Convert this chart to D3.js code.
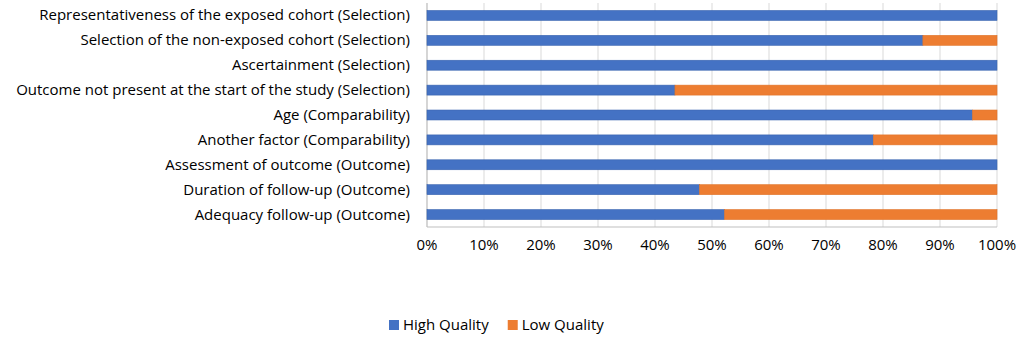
<!DOCTYPE html>
<html>
<head>
<meta charset="utf-8">
<script src="https://cdn.jsdelivr.net/npm/d3@7"></script>
<style>
  body { margin: 0; background: #fff; }
  svg { display: block; font-family: "Open Sans", "Liberation Sans", sans-serif; }
</style>
</head>
<body>
<svg id="chart" width="1021" height="337"></svg>
<script>
const categories = [
    "Representativeness of the exposed cohort (Selection)",
    "Selection of the non-exposed cohort (Selection)",
    "Ascertainment (Selection)",
    "Outcome not present at the start of the study (Selection)",
    "Age (Comparability)",
    "Another factor (Comparability)",
    "Assessment of outcome (Outcome)",
    "Duration of follow-up (Outcome)",
    "Adequacy follow-up (Outcome)"
];
// share of studies (percent)
const highQuality = [100, 87.0, 100, 43.5, 95.7, 78.3, 100, 47.8, 52.2];
const lowQuality = [0, 13.0, 0, 56.5, 4.3, 21.7, 0, 52.2, 47.8];
const seriesNames = ["High Quality", "Low Quality"];
const seriesColors = ["#4472C4", "#ED7D31"];
const xTicks = [0, 10, 20, 30, 40, 50, 60, 70, 80, 90, 100];

const svg = d3.select("#chart");
const margin = { top: 3, right: 24, bottom: 110, left: 427 };
const width = 1021, height = 337;
const innerWidth = width - margin.left - margin.right;
const innerHeight = height - margin.top - margin.bottom;

const x = d3.scaleLinear().domain([0, 100]).range([0, innerWidth]);
const y = d3.scaleBand().domain(categories).range([0, innerHeight]).paddingInner(0.6).paddingOuter(0.3);

const g = svg.append("g").attr("transform", `translate(${margin.left},${margin.top})`);

// gridlines
g.append("g")
    .selectAll("line")
    .data(xTicks)
    .join("line")
    .attr("x1", d => x(d)).attr("x2", d => x(d))
    .attr("y1", 0).attr("y2", innerHeight)
    .attr("stroke", "#d9d9d9")
    .attr("stroke-width", 1);

// axis lines
g.append("line")
    .attr("x1", 0).attr("x2", innerWidth)
    .attr("y1", innerHeight).attr("y2", innerHeight)
    .attr("stroke", "#bfbfbf");
g.append("line")
    .attr("x1", 0).attr("x2", 0)
    .attr("y1", 0).attr("y2", innerHeight)
    .attr("stroke", "#bfbfbf");

// stacked bars
const rows = categories.map((c, i) => ({ cat: c, vals: [highQuality[i], lowQuality[i]] }));
const stackData = rows.map(r => {
    let acc = 0;
    return r.vals.map((v, k) => {
        const seg = { cat: r.cat, k, x0: acc, x1: acc + v };
        acc += v;
        return seg;
    });
}).flat().filter(d => d.x1 > d.x0);

g.append("g")
    .selectAll("rect")
    .data(stackData)
    .join("rect")
    .attr("x", d => x(d.x0))
    .attr("y", d => y(d.cat))
    .attr("width", d => x(d.x1) - x(d.x0))
    .attr("height", y.bandwidth())
    .attr("fill", d => seriesColors[d.k])
    .attr("stroke", d => d.k === 0 ? "#3a64b0" : "#e0742a")
    .attr("stroke-width", 0.6);

// category labels
g.append("g")
    .selectAll("text")
    .data(categories)
    .join("text")
    .attr("x", -17)
    .attr("y", d => y(d) + y.bandwidth() / 2 + 5)
    .attr("text-anchor", "end")
    .attr("font-size", "15px")
    .attr("fill", "#000")
    .text(d => d);

// x tick labels
g.append("g")
    .selectAll("text")
    .data(xTicks)
    .join("text")
    .attr("x", d => x(d))
    .attr("y", innerHeight + 23)
    .attr("text-anchor", "middle")
    .attr("font-size", "15px")
    .attr("fill", "#000")
    .text(d => d + "%");

// legend
const legend = svg.append("g").attr("transform", "translate(389,325)");
let lx = 0;
seriesNames.forEach((name, i) => {
    const item = legend.append("g").attr("transform", `translate(${lx},0)`);
    item.append("rect").attr("x", 0).attr("y", -5).attr("width", 10).attr("height", 10).attr("fill", seriesColors[i]);
    const t = item.append("text").attr("x", 14).attr("y", 5)
        .attr("font-size", "15px").attr("fill", "#000").text(name);
    lx += 14 + t.node().getComputedTextLength() + 19;
});
</script>
</body>
</html>
